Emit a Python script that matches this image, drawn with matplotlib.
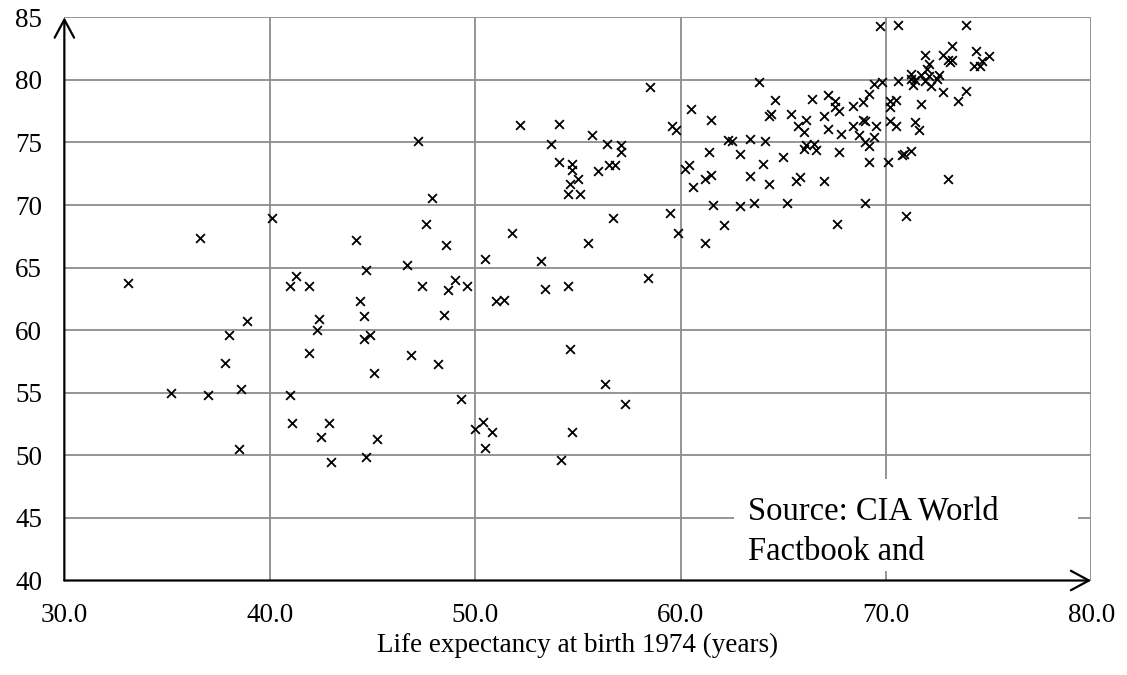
import matplotlib.pyplot as plt

plt.rcParams["font.family"] = ["Liberation Serif", "DejaVu Serif"]

# life expectancy 1974 (x) vs later (y)
life_1974 = [
    33.1, 35.2, 36.6, 37.0, 37.8, 38.0, 38.5, 38.6, 38.9, 40.1,
    41.0, 41.1, 41.0, 41.3, 41.9, 41.9, 42.3, 42.4, 42.5, 42.9, 43.0,
    44.2, 44.4, 44.6, 44.7, 44.7, 44.6, 44.9, 45.1, 45.2,
    46.7, 46.9, 47.2, 47.4, 47.6, 47.9, 48.2, 48.5, 48.6, 48.7, 49.0, 49.3, 49.6, 50.0,
    50.4, 50.5, 50.5, 50.8, 51.0, 51.4, 51.8, 52.2, 53.2, 53.4,
    53.7, 54.1, 54.1, 54.2, 54.5, 54.5, 54.6, 54.6, 54.7, 54.7, 54.7, 55.0, 55.1,
    55.5, 55.7, 56.0, 56.3, 56.4, 56.5, 56.7, 56.8, 57.1, 57.1, 57.3,
    58.4, 58.5, 59.5, 59.6, 59.8, 59.9,
    60.2, 60.4, 60.5, 60.6, 61.2, 61.2, 61.4, 61.5, 61.5, 61.6,
    62.1, 62.3, 62.5, 62.9, 62.9, 63.4, 63.4, 63.6, 63.8, 64.0, 64.1, 64.3, 64.3, 64.4, 64.6,
    65.0, 65.2, 65.4, 65.6, 65.7, 65.8, 66.0, 66.1, 66.0, 66.1, 66.4, 66.5, 66.6,
    67.0, 67.0, 67.2, 67.2, 67.5, 67.5, 67.6, 67.7, 67.7, 67.8,
    68.4, 68.4, 68.7, 68.9, 68.9, 69.0, 69.0, 69.0, 69.2, 69.2, 69.2, 69.4, 69.4, 69.5, 69.7, 69.8,
    70.1, 70.2, 70.2, 70.2, 70.5, 70.5, 70.6, 70.6, 70.8, 70.9, 71.0, 71.2, 71.2, 71.2, 71.3, 71.4,
    71.4, 71.6, 71.7, 71.7, 71.9, 71.9, 72.0, 72.1, 72.1, 72.2, 72.5, 72.6,
    72.8, 72.8, 73.0, 73.0, 73.1, 73.2, 73.2, 73.5, 73.9, 73.9, 74.3, 74.4, 74.6, 74.7, 75.0,
]
life_later = [
    63.8, 55.0, 67.4, 54.8, 57.4, 59.6, 50.5, 55.3, 60.7, 69.0,
    54.8, 52.6, 63.5, 64.3, 63.5, 58.2, 60.0, 60.9, 51.5, 52.6, 49.5,
    67.2, 62.3, 61.1, 64.8, 49.9, 59.3, 59.6, 56.6, 51.3,
    65.2, 58.0, 75.1, 63.5, 68.5, 70.6, 57.3, 61.2, 66.8, 63.2, 64.0, 54.5, 63.5, 52.1,
    52.7, 50.6, 65.7, 51.9, 62.3, 62.4, 67.8, 76.4, 65.5, 63.3,
    74.9, 76.5, 73.4, 49.6, 63.5, 70.9, 58.5, 71.7, 73.3, 72.8, 51.9, 72.1, 70.9,
    67.0, 75.6, 72.7, 55.7, 74.9, 73.2, 69.0, 73.2, 74.8, 74.2, 54.1,
    64.2, 79.4, 69.4, 76.3, 76.0, 67.8,
    72.9, 73.2, 77.7, 71.4, 72.1, 67.0, 74.2, 72.4, 76.8, 70.0,
    68.4, 75.2, 75.1, 74.1, 69.9, 75.3, 72.3, 70.2, 79.8, 73.3, 75.1, 71.7, 77.1, 77.3, 78.4,
    73.8, 70.2, 77.3, 71.9, 76.3, 72.2, 75.8, 74.8, 74.5, 76.8, 78.5, 74.9, 74.4,
    77.1, 71.9, 78.8, 76.1, 78.3, 77.8, 68.5, 77.5, 74.2, 75.7,
    77.9, 76.3, 75.6, 78.2, 76.8, 76.7, 75.0, 70.2, 78.9, 74.7, 73.4, 79.7, 75.4, 76.3, 84.3, 79.8,
    73.4, 77.8, 76.7, 78.3, 78.4, 76.3, 84.4, 79.9, 74.0, 74.1, 69.1, 74.3, 80.5, 80.1, 79.6, 80.0,
    76.6, 76.0, 80.4, 78.1, 82.0, 79.9, 80.9, 81.3, 80.3, 79.5, 80.1, 80.4,
    82.0, 79.0, 81.6, 72.1, 81.4, 82.7, 81.6, 78.3, 84.4, 79.1, 81.1, 82.3, 81.1, 81.5, 81.9,
]

x_ticks = [30, 40, 50, 60, 70, 80]
x_labels = ["30.0", "40.0", "50.0", "60.0", "70.0", "80.0"]
y_ticks = [40, 45, 50, 55, 60, 65, 70, 75, 80, 85]
source_lines = ["Source: CIA World", "Factbook and"]

fig = plt.figure(figsize=(11.27, 6.75), dpi=100)
ax = fig.add_axes([0.0571, 0.140, 0.9112, 0.8344])

ax.scatter(life_1974, life_later, marker="x", s=40, linewidths=1.3,
           color="black", zorder=3)

ax.set_xlim(30, 80)
ax.set_ylim(40, 85)
ax.set_xticks(x_ticks)
ax.set_xticklabels(x_labels)
ax.set_yticks(y_ticks)
ax.grid(True, color="#8c8c8c", linewidth=1.3)
ax.set_axisbelow(True)
for side in ax.spines:
    ax.spines[side].set_visible(False)
ax.tick_params(length=0, labelsize=19.5, pad=16)
ax.set_xlabel("Life expectancy at birth 1974 (years)", fontsize=19.5, labelpad=4)

# axes drawn as arrows
arrow = dict(arrowstyle="->,head_length=0.65,head_width=0.35", color="black",
             lw=1.6, mutation_scale=20, shrinkA=0, shrinkB=0)
ax.annotate("", xy=(30, 85), xytext=(30, 40), arrowprops=arrow,
            annotation_clip=False, zorder=4)
ax.annotate("", xy=(80, 40), xytext=(30, 40), arrowprops=arrow,
            annotation_clip=False, zorder=4)

# source box (white patch hiding the grid behind the text)
ax.add_patch(plt.Rectangle((0.652, 0.016), 0.335, 0.164, transform=ax.transAxes,
                           facecolor="white", edgecolor="none", zorder=1.5))
for line, y in zip(source_lines, [0.1075, 0.036]):
    ax.text(0.6657, y, line, transform=ax.transAxes, fontsize=23.5,
            ha="left", va="baseline", zorder=2)

fig.savefig("out.png", dpi=100)
